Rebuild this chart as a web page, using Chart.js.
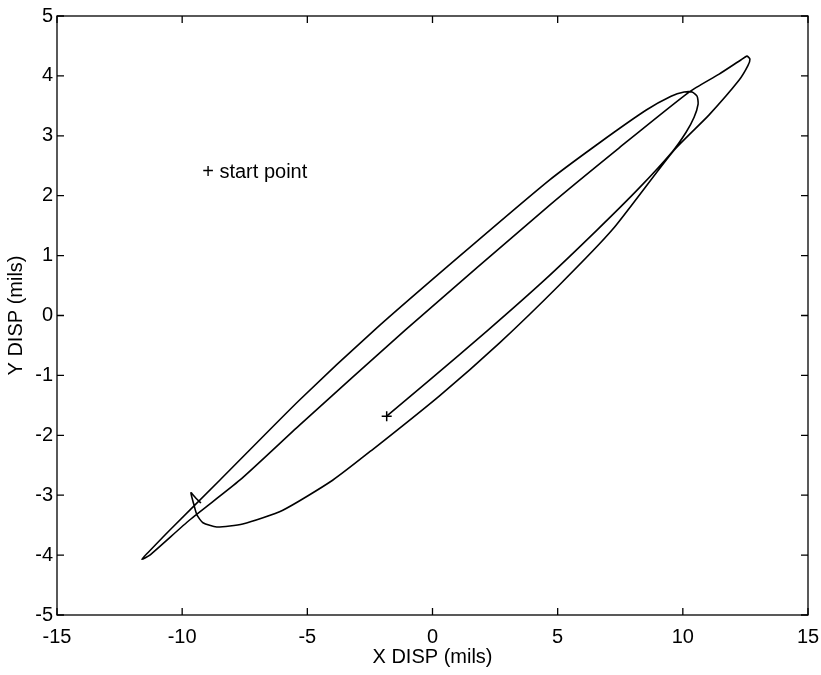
<!DOCTYPE html>
<html>
<head>
<meta charset="utf-8">
<script src="https://cdn.jsdelivr.net/npm/chart.js@4.4.0/dist/chart.umd.min.js"></script>
<style>
  body { margin: 0; background: #fff; }
  canvas { display: block; }
</style>
</head>
<body>
<canvas id="orbita" width="821" height="675"></canvas>
<script>
// Orbit trace (mils)
var orbitX = [-1.83, -0.12, 2.23, 4.47, 6.58, 8.26, 9.57, 10.13, 10.45, 10.61, 10.57, 10.37, 10.05,
    9.53, 8.54, 6.66, 4.67, 1.08, -2.31, -5.31, -8.50, -10.49, -11.37, -11.61,
    -11.29, -9.69, -7.70, -5.31, -1.08, 4.67, 7.46, 10.25, 11.45, 12.33, 12.56, 12.68, 12.60,
    12.25, 11.05, 9.65, 7.18, 5.07, 2.67, 0.28, -2.43, -3.99, -5.98, -7.58, -8.62, -9.17,
    -9.41, -9.53, -9.65, -9.45, -9.25];
var orbitY = [-1.68, -1.08, -0.24, 0.59, 1.43, 2.13, 2.73, 3.06, 3.31, 3.53, 3.66, 3.73, 3.73,
    3.66, 3.43, 2.88, 2.26, 0.99, -0.24, -1.41, -2.75, -3.58, -3.96, -4.07,
    -4.00, -3.41, -2.75, -1.83, -0.24, 1.84, 2.80, 3.73, 4.03, 4.27, 4.33, 4.28, 4.17,
    3.93, 3.35, 2.76, 1.43, 0.51, -0.46, -1.34, -2.25, -2.75, -3.25, -3.48, -3.53, -3.46,
    -3.33, -3.16, -2.96, -3.05, -3.13];

var startX = [-1.83];
var startY = [-1.68];

var xTicks = [-15, -10, -5, 0, 5, 10, 15];
var yTicks = [-5, -4, -3, -2, -1, 0, 1, 2, 3, 4, 5];

var etiquetaTexto = '+ start point';
var etiquetaX = -9.2;
var etiquetaY = 2.3;

var fuente = '"Liberation Sans", Arial, sans-serif';

function puntos(xs, ys) {
    return xs.map(function(x, i) { return { x: x, y: ys[i] }; });
}

// caja y marcas hacia adentro, como en MATLAB
var cajaPlugin = {
    id: 'caja',
    afterDraw: function(chart) {
        var ctx = chart.ctx;
        var a = chart.chartArea;
        var sx = chart.scales.x;
        var sy = chart.scales.y;
        var largo = 7;
        ctx.save();
        ctx.strokeStyle = '#000';
        ctx.lineWidth = 1.3;
        ctx.strokeRect(a.left, a.top, a.right - a.left, a.bottom - a.top);
        ctx.beginPath();
        xTicks.forEach(function(v) {
            var px = sx.getPixelForValue(v);
            ctx.moveTo(px, a.bottom); ctx.lineTo(px, a.bottom - largo);
            ctx.moveTo(px, a.top); ctx.lineTo(px, a.top + largo);
        });
        yTicks.forEach(function(v) {
            var py = sy.getPixelForValue(v);
            ctx.moveTo(a.left, py); ctx.lineTo(a.left + largo, py);
            ctx.moveTo(a.right, py); ctx.lineTo(a.right - largo, py);
        });
        ctx.stroke();

        ctx.fillStyle = '#000';
        ctx.font = '20px ' + fuente;
        ctx.textBaseline = 'alphabetic';
        ctx.textAlign = 'left';
        ctx.fillText(etiquetaTexto, sx.getPixelForValue(etiquetaX), sy.getPixelForValue(etiquetaY));
        ctx.restore();
    }
};

document.addEventListener('DOMContentLoaded', function() {
    var ctx = document.getElementById('orbita').getContext('2d');

    var chart = new Chart(ctx, {
        type: 'scatter',
        data: {
            datasets: [{
                label: 'orbit',
                data: puntos(orbitX, orbitY),
                showLine: true,
                borderColor: '#000',
                borderWidth: 1.6,
                pointRadius: 0,
                tension: 0.2
            }, {
                label: 'start',
                data: puntos(startX, startY),
                pointStyle: 'cross',
                pointRadius: 5,
                borderColor: '#000',
                borderWidth: 1.5
            }]
        },
        options: {
            responsive: false,
            animation: false,
            layout: { padding: { top: 16, right: 13, left: 0, bottom: 0 } },
            plugins: {
                legend: { display: false },
                tooltip: { enabled: false }
            },
            scales: {
                x: {
                    type: 'linear',
                    min: -15,
                    max: 15,
                    grid: { display: false, drawTicks: false },
                    border: { display: false },
                    afterBuildTicks: function(s) { s.ticks = xTicks.map(function(v) { return { value: v }; }); },
                    afterFit: function(s) { s.height = 60; s.paddingLeft = 0; s.paddingRight = 0; },
                    ticks: { color: '#000', font: { family: fuente, size: 20 }, padding: 10, maxRotation: 0 },
                    title: { display: true, text: 'X DISP (mils)', color: '#000', font: { family: fuente, size: 20 }, padding: { top: 0, bottom: 6 } }
                },
                y: {
                    type: 'linear',
                    min: -5,
                    max: 5,
                    grid: { display: false, drawTicks: false },
                    border: { display: false },
                    afterBuildTicks: function(s) { s.ticks = yTicks.map(function(v) { return { value: v }; }); },
                    afterFit: function(s) { s.width = 57; s.paddingTop = 0; s.paddingBottom = 0; },
                    ticks: { color: '#000', font: { family: fuente, size: 20 }, padding: 4 },
                    title: { display: true, text: 'Y DISP (mils)', color: '#000', font: { family: fuente, size: 20 }, padding: { top: 4, bottom: 0 } }
                }
            }
        },
        plugins: [cajaPlugin]
    });
});
</script>
</body>
</html>
